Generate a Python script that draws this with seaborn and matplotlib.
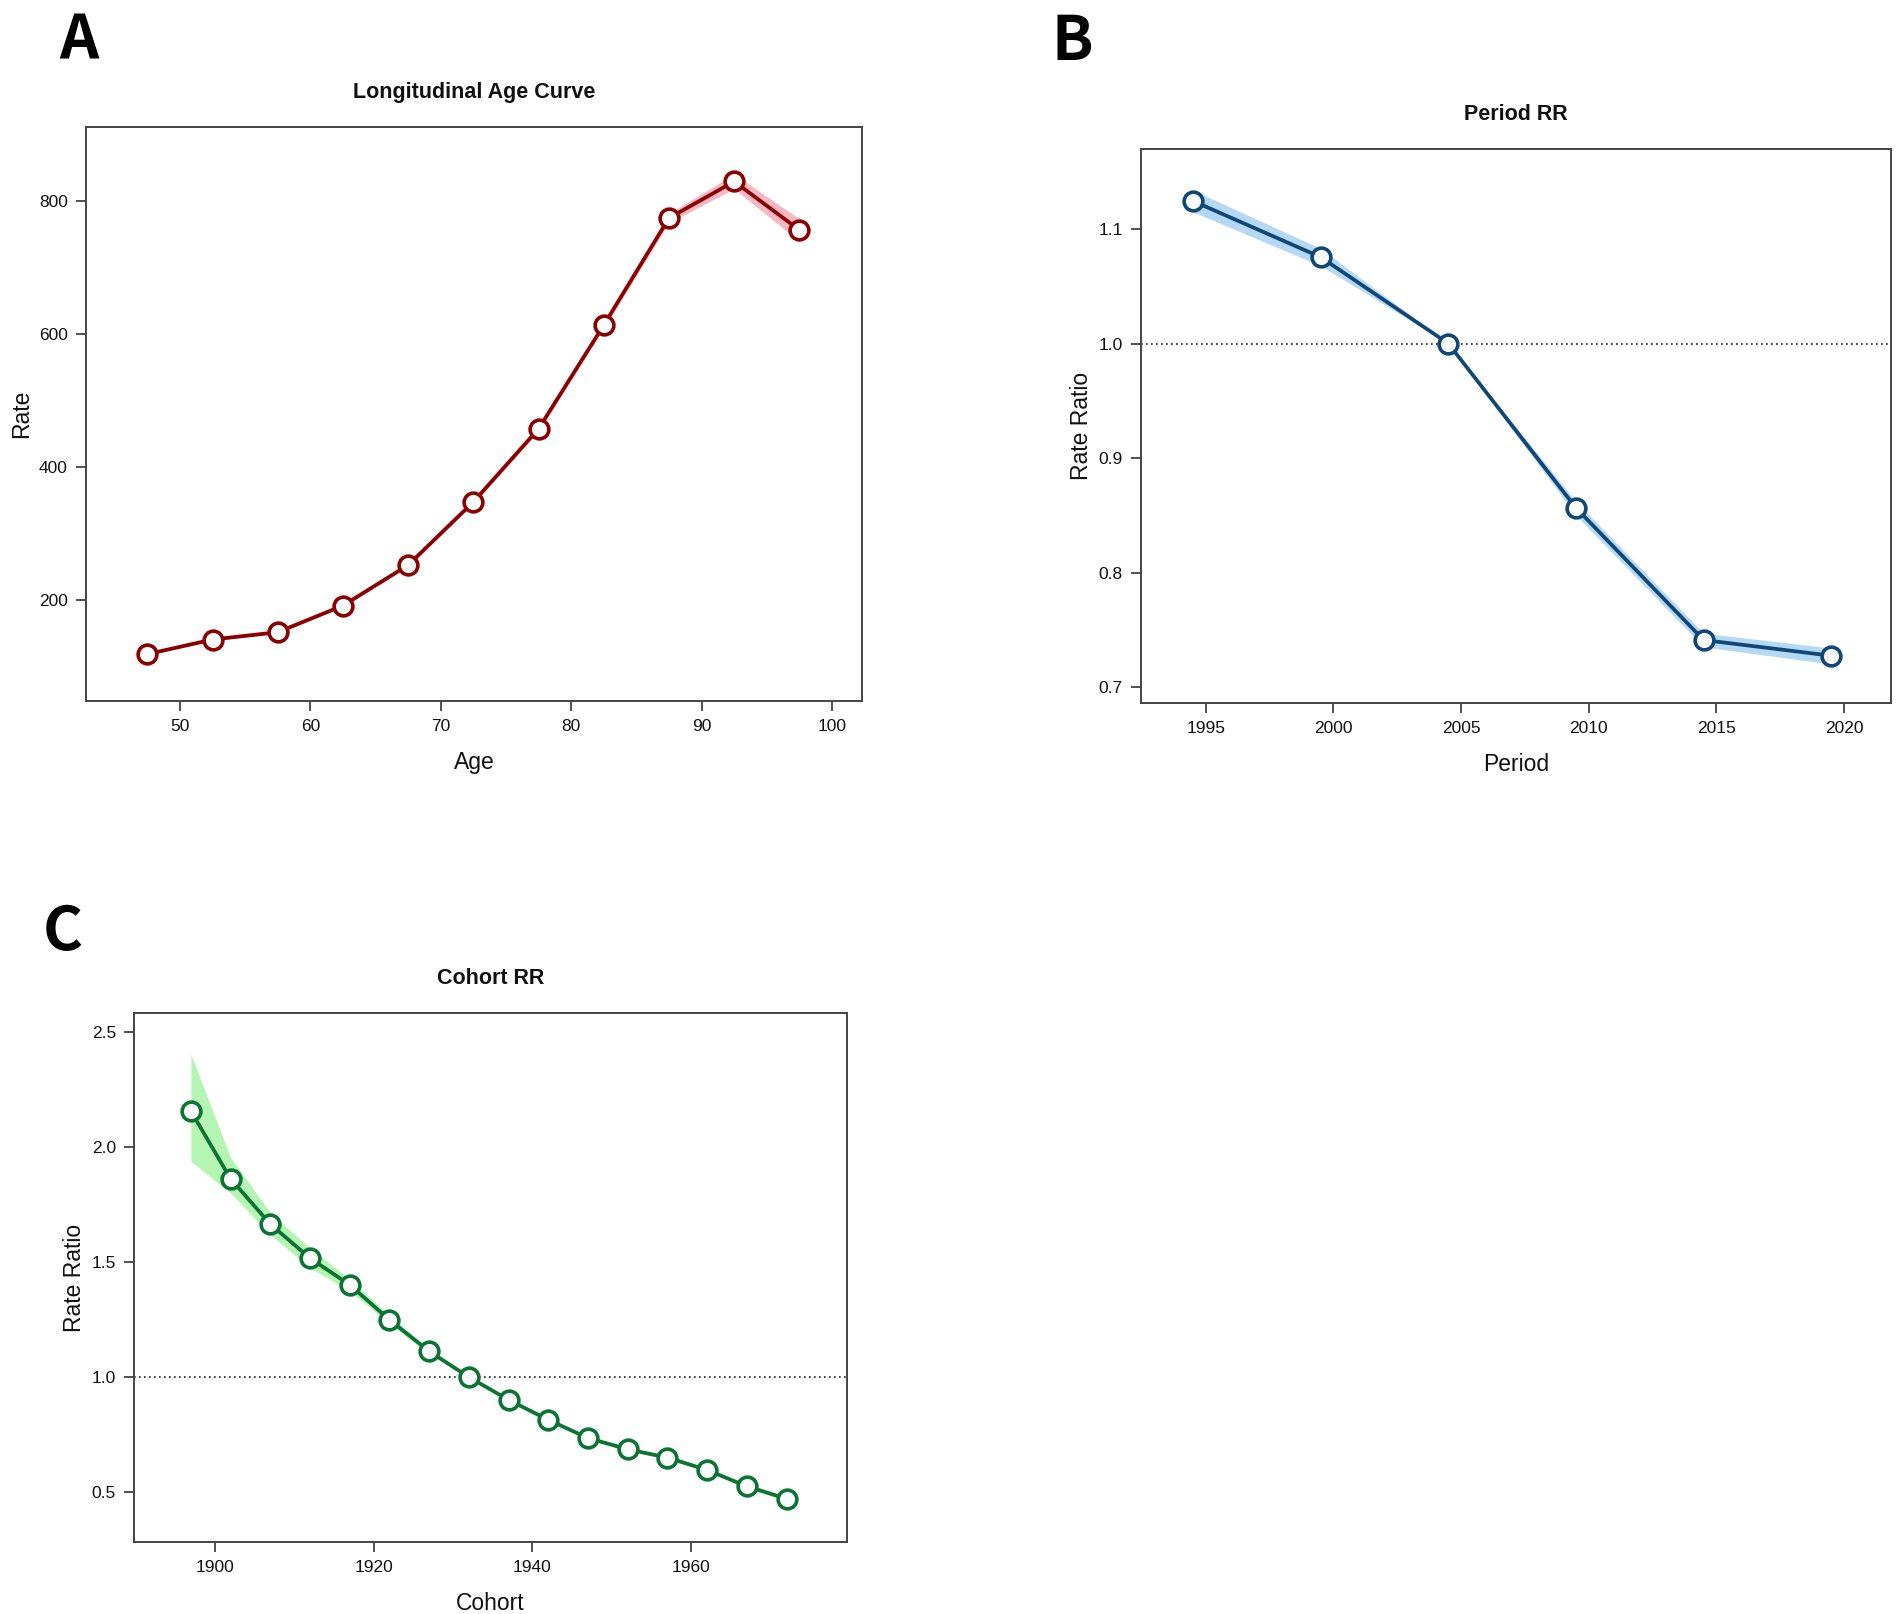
import numpy as np
import matplotlib
matplotlib.use("Agg")
import matplotlib.pyplot as plt
import seaborn as sns

# panel A - longitudinal age curve
age = [47.5, 52.5, 57.5, 62.5, 67.5, 72.5, 77.5, 82.5, 87.5, 92.5, 97.5]
age_rate = [119, 141, 152, 192, 253, 348, 458, 614, 775, 830, 757]
age_lo = [117, 139, 150, 190, 250, 345, 454, 609, 768, 819, 740]
age_hi = [121, 143, 154, 194, 256, 351, 462, 619, 782, 841, 774]

# panel B - period RR
period = [1994.5, 1999.5, 2004.5, 2009.5, 2014.5, 2019.5]
period_rr = [1.1245, 1.0755, 1.0, 0.8564, 0.741, 0.7273]
period_lo = [1.115, 1.068, 1.0, 0.850, 0.735, 0.720]
period_hi = [1.134, 1.083, 1.0, 0.862, 0.747, 0.734]

# panel C - cohort RR
cohort = [1897, 1902, 1907, 1912, 1917, 1922, 1927, 1932,
          1937, 1942, 1947, 1952, 1957, 1962, 1967, 1972]
cohort_rr = [2.157, 1.862, 1.665, 1.517, 1.401, 1.249, 1.112, 1.0,
             0.901, 0.814, 0.735, 0.686, 0.650, 0.596, 0.525, 0.471]
cohort_lo = [1.938, 1.80, 1.62, 1.475, 1.375, 1.232, 1.100, 1.0,
             0.893, 0.807, 0.728, 0.679, 0.643, 0.589, 0.517, 0.462]
cohort_hi = [2.404, 1.955, 1.715, 1.56, 1.427, 1.266, 1.124, 1.0,
             0.909, 0.821, 0.742, 0.693, 0.657, 0.603, 0.533, 0.480]

sns.set_theme(style="ticks")
plt.rcParams['font.family'] = ['Liberation Sans', 'DejaVu Sans']

fig = plt.figure(figsize=(19.02, 16.14), dpi=100)

axA = fig.add_axes([0.04522, 0.56568, 0.40799, 0.35564])
axB = fig.add_axes([0.59990, 0.56444, 0.39432, 0.34325])
axC = fig.add_axes([0.07045, 0.04461, 0.37487, 0.32776])


def draw_panel(ax, x, y, lo, hi, line_col, band_col, title, xlab, ylab, ref=False):
    ax.fill_between(x, lo, hi, color=band_col, lw=0, zorder=1)
    if ref:
        ax.axhline(1.0, color="#222222", ls=(0, (1, 2)), lw=1.2, zorder=1.5)
    sns.lineplot(x=x, y=y, ax=ax, color=line_col, lw=2.7, marker="o",
                 markersize=13.5, markerfacecolor="white",
                 markeredgecolor=line_col, markeredgewidth=2.6, zorder=3)
    ax.set_title(title, fontsize=15.5, fontweight="bold", pad=21, color="#111111")
    ax.set_xlabel(xlab, fontsize=16.5, labelpad=12, color="#111111")
    ax.set_ylabel(ylab, fontsize=16.5, labelpad=4, color="#111111")
    ax.tick_params(axis="both", labelsize=12.5, length=7, width=1.2,
                   color="#333333", labelcolor="#111111", direction="out", pad=6)
    for s in ax.spines.values():
        s.set_visible(True)
        s.set_color("#444444")
        s.set_linewidth(1.4)


draw_panel(axA, age, age_rate, age_lo, age_hi, "#8B0000", "#F7B8C4",
           "Longitudinal Age Curve", "Age", "Rate")
axA.set_xlim(42.8, 102.3)
axA.set_ylim(48.5, 912)
axA.set_xticks([50, 60, 70, 80, 90, 100])
axA.set_yticks([200, 400, 600, 800])

draw_panel(axB, period, period_rr, period_lo, period_hi, "#0F4777", "#B5D8F5",
           "Period RR", "Period", "Rate Ratio", ref=True)
axB.set_xlim(1992.46, 2021.84)
axB.set_ylim(0.686, 1.170)
axB.set_xticks([1995, 2000, 2005, 2010, 2015, 2020])
axB.set_yticks([0.7, 0.8, 0.9, 1.0, 1.1])
axB.set_yticklabels(["0.7", "0.8", "0.9", "1.0", "1.1"])

draw_panel(axC, cohort, cohort_rr, cohort_lo, cohort_hi, "#0C7433", "#B4F5B4",
           "Cohort RR", "Cohort", "Rate Ratio", ref=True)
axC.set_xlim(1889.84, 1979.6)
axC.set_ylim(0.283, 2.583)
axC.set_xticks([1900, 1920, 1940, 1960])
axC.set_yticks([0.5, 1.0, 1.5, 2.0, 2.5])
axC.set_yticklabels(["0.5", "1.0", "1.5", "2.0", "2.5"])

# panel letters
for lab, (px, py) in {"A": (79, 42), "B": (1072, 42), "C": (63, 932)}.items():
    fig.text(px / 1902, 1 - py / 1614, lab, fontsize=44, fontweight="semibold",
             ha="center", va="center", color="black",
             family=["Noto Sans CJK SC", "DejaVu Sans"])

fig.savefig("out.png", dpi=100, facecolor="white")
